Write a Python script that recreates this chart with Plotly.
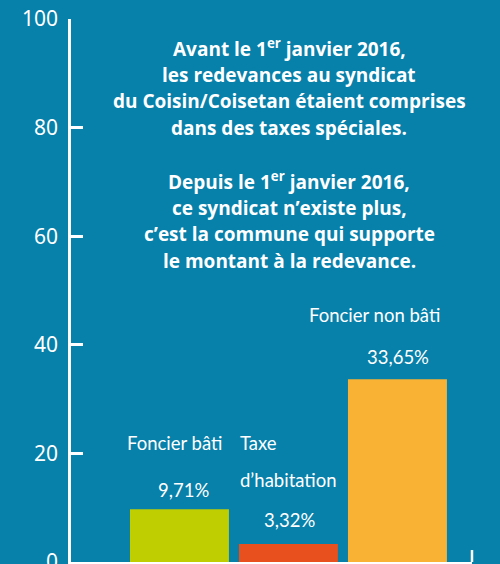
import plotly.graph_objects as go

categories = ["Foncier bâti", "Taxe d'habitation", "Foncier non bâti"]
values = [9.71, 3.32, 33.65]
value_labels = ["9,71%", "3,32%", "33,65%"]
bar_colors = ["#bece00", "#e8501e", "#f9b233"]
y_ticks = [0, 20, 40, 60, 80, 100]

title_lines_1 = [
    "Avant le 1<sup>er</sup> janvier 2016,",
    "les redevances au syndicat",
    "du Coisin/Coisetan étaient comprises",
    "dans des taxes spéciales.",
]
title_lines_2 = [
    "Depuis le 1<sup>er</sup> janvier 2016,",
    "ce syndicat n’existe plus,",
    "c’est la commune qui supporte",
    "le montant à la redevance.",
]

W, H = 500, 564
L, R, T, B = 71, 28, 19, 2
PW, PH = W - L - R, H - T - B
BG = "#0780aa"


def xp(px):
    return (px - L) / PW


def yp(py):
    return (H - B - py) / PH


fig = go.Figure()
fig.add_trace(go.Bar(
    x=categories, y=values, marker=dict(color=bar_colors, line=dict(width=0)),
    width=0.908, hoverinfo="skip",
))

bold_font = dict(family="Open Sans", size=19, color="white", weight="bold")
for i, line in enumerate(title_lines_1):
    fig.add_annotation(text=line, xref="paper", yref="paper", x=xp(289), y=yp(48 + i * 26.6),
                       showarrow=False, font=bold_font, xanchor="center", yanchor="middle")
for i, line in enumerate(title_lines_2):
    fig.add_annotation(text=line, xref="paper", yref="paper", x=xp(289), y=yp(181 + i * 26.6),
                       showarrow=False, font=bold_font, xanchor="center", yanchor="middle")

label_font = dict(family="Lato", size=18.5, color="white", weight=400)
# Foncier bâti
fig.add_annotation(text=categories[0], xref="paper", yref="paper", x=xp(174), y=yp(443),
                   showarrow=False, font=label_font, xanchor="center", yanchor="middle")
fig.add_annotation(text=value_labels[0], xref="paper", yref="paper", x=xp(183), y=yp(490),
                   showarrow=False, font=label_font, xanchor="center", yanchor="middle")
# Taxe d'habitation
fig.add_annotation(text="Taxe", xref="paper", yref="paper", x=xp(238), y=yp(443),
                   showarrow=False, font=label_font, xanchor="left", yanchor="middle")
fig.add_annotation(text="d’habitation", xref="paper", yref="paper", x=xp(238), y=yp(480),
                   showarrow=False, font=label_font, xanchor="left", yanchor="middle")
fig.add_annotation(text=value_labels[1], xref="paper", yref="paper", x=xp(289.5), y=yp(520),
                   showarrow=False, font=label_font, xanchor="center", yanchor="middle")
# Foncier non bâti
fig.add_annotation(text=categories[2], xref="paper", yref="paper", x=xp(374.5), y=yp(315),
                   showarrow=False, font=label_font, xanchor="center", yanchor="middle")
fig.add_annotation(text=value_labels[2], xref="paper", yref="paper", x=xp(397.5), y=yp(357),
                   showarrow=False, font=label_font, xanchor="center", yanchor="middle")

# right-end tick of x axis
fig.add_shape(type="line", xref="paper", yref="y", x0=1, x1=1, y0=0, y1=2.2,
              line=dict(color="white", width=2.5))

fig.update_layout(
    width=W, height=H, margin=dict(l=L, r=R, t=T, b=B, autoexpand=False),
    paper_bgcolor=BG, plot_bgcolor=BG, showlegend=False,
    xaxis=dict(range=[-0.995, 2.684], showticklabels=False, ticks="", showgrid=False,
               zeroline=False, showline=True, linecolor="white", linewidth=2.5,
               layer="below traces", fixedrange=True, automargin=False),
    yaxis=dict(range=[0, 100], tickvals=y_ticks, ticks="inside", ticklen=12, tickwidth=2.5,
               tickcolor="white", showline=True, linecolor="white", linewidth=2.5,
               showgrid=False, zeroline=False, ticklabelstandoff=6, ticklabeloverflow="allow",
               automargin=False,
               tickfont=dict(family="Noto Sans", size=21, color="white"), fixedrange=True),
)

fig.write_html("out.html", config={"displayModeBar": False},
               post_script="document.body.style.margin='0';")
